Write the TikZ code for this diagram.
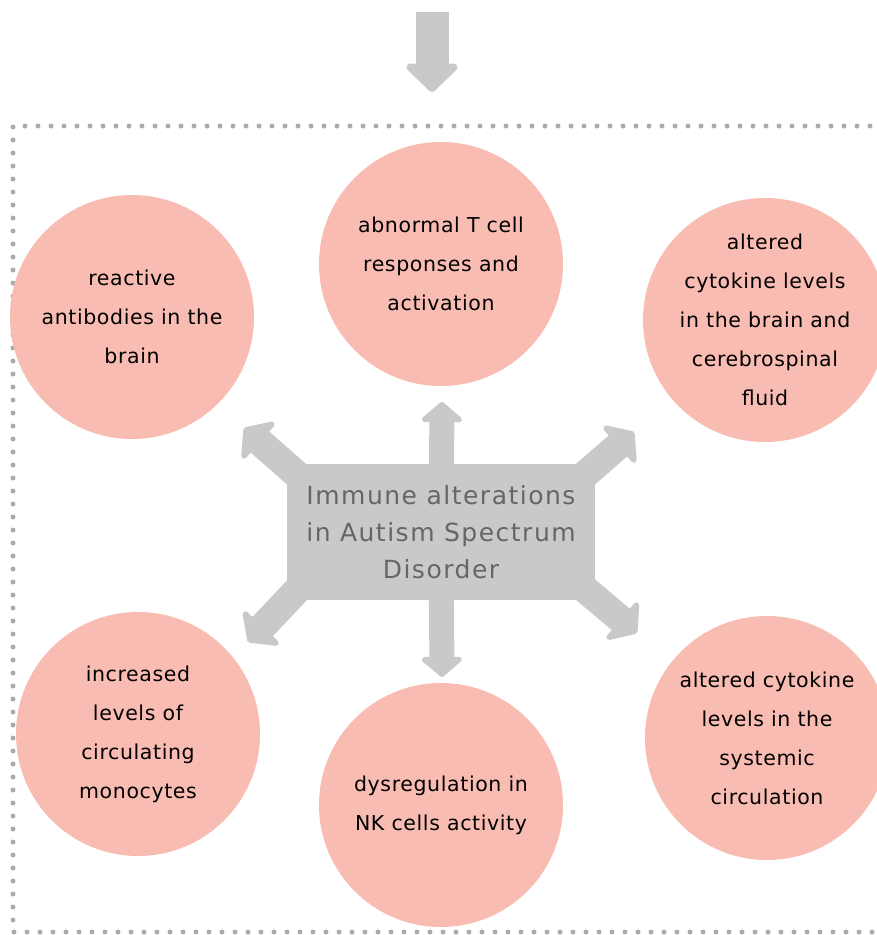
\documentclass[tikz,border=0pt]{standalone}
\usepackage{fontspec}
\setmainfont{DejaVu Sans}
\usetikzlibrary{arrows.meta,backgrounds,calc}

\definecolor{petal}{HTML}{F9BCB2}
\definecolor{hub}{HTML}{C9C9C9}
\definecolor{dots}{HTML}{ABABAB}
\definecolor{hubtext}{HTML}{666666}

\tikzset{
	issue/.style={circle,fill=petal,minimum size=244pt,inner sep=0pt,align=center,text=black,
		font={\fontsize{20.5pt}{39pt}\selectfont\addfontfeatures{LetterSpace=3}}},
	spoke/.style={hub,line width=25pt,-{Triangle[length=21pt,width=48pt,round]}},
	slant/.style={hub,line width=28pt,-{Triangle[length=22pt,width=58pt,round]}},
	frame/.style={dots,line width=5pt,line cap=round,dash pattern=on 0pt off 13pt},
}

\begin{document}
\begin{tikzpicture}[x=1pt,y=-1pt]
	\useasboundingbox (0,0) rectangle (877,935);
	\clip (0,0) rectangle (877,935);

	% incoming arrow and frame
	\coordinate (inflow) at (432,12);
	\coordinate (inflowtip) at (432,92);
	\draw[hub,line width=33pt,-{Triangle[length=30pt,width=60pt,round]}] (inflow) -- (inflowtip);
	\draw[frame] (870,126) -- (13,126) -- (13,932) -- (877,932);

	% the six findings
	\node[issue] (brainab) at (132,317) {reactive\\antibodies in the\\brain};
	\node[issue] (tcell) at (441,264) {abnormal T cell\\responses and\\activation};
	\node[issue] (csf) at (765,320) {altered\\cytokine levels\\in the brain and\\cerebrospinal\\fluid};
	\node[issue] (mono) at (138,734) {increased\\levels of\\circulating\\monocytes};
	\node[issue] (nk) at (441,805) {dysregulation in\\NK cells activity};
	\node[issue] (systemic) at (767,738) {altered cytokine\\levels in the\\systemic\\circulation};

	% hub
	\node[fill=hub,minimum width=308pt,minimum height=136pt,inner sep=0pt,align=center,text=hubtext,
		font={\fontsize{25pt}{37pt}\selectfont\addfontfeatures{LetterSpace=6}}] (core) at (441,532)
		{Immune alterations\\in Autism Spectrum\\Disorder};

	\coordinate (tipN) at (442,402);
	\coordinate (tipS) at (442,677);
	\coordinate (tipNW) at (244,428);
	\coordinate (tipNE) at (634,432);
	\coordinate (tipSW) at (248,642);
	\coordinate (tipSE) at (637,633);

	\begin{scope}[on background layer]
		\draw[spoke] (core.center) -- (tipN);
		\draw[spoke] (core.center) -- (tipS);
		\draw[slant] ($(core.north west)+(15,15)$) -- (tipNW);
		\draw[slant] ($(core.north east)+(-15,15)$) -- (tipNE);
		\draw[slant] ($(core.south west)+(15,-15)$) -- (tipSW);
		\draw[slant] ($(core.south east)+(-15,-15)$) -- (tipSE);
	\end{scope}

\end{tikzpicture}
\end{document}
